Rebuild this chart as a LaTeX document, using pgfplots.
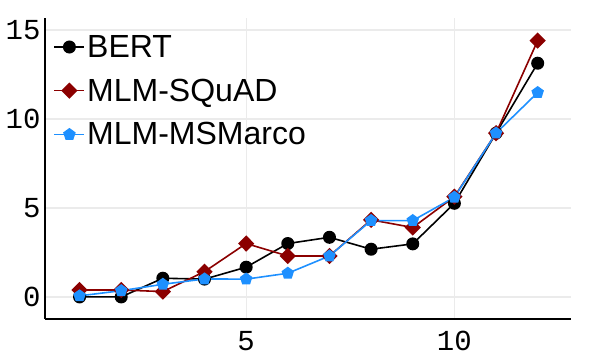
\documentclass[border=0pt]{standalone}
\usepackage{fontspec}
\setmainfont{Liberation Sans}
\setmonofont{Liberation Mono}
\usepackage{pgfplots}
\pgfplotsset{compat=1.18}
\usetikzlibrary{plotmarks}

\definecolor{bertc}{RGB}{0,0,0}
\definecolor{squadc}{RGB}{139,0,0}
\definecolor{msmc}{RGB}{30,144,255}
\definecolor{gridc}{RGB}{235,235,235}

\begin{document}
\begin{tikzpicture}
\begin{axis}[
  scale only axis,
  width=526pt, height=301pt,
  xmin=0.17, xmax=12.8,
  ymin=-1.24, ymax=15.67,
  xtick={5,10}, ytick={0,5,10,15},
  axis x line*=bottom, axis y line*=left,
  axis line style={line width=1.2pt, -},
  major tick length=0pt,
  grid=major, grid style={gridc, line width=1.3pt},
  tick label style={font=\fontsize{29}{31}\ttfamily},
  /pgf/number format/assume math mode=true,
  xticklabel style={yshift=-9pt},
  yticklabel style={xshift=-1pt},
  legend style={draw=none, fill=none, at={(0.016,0.95)}, anchor=north west,
    font=\fontsize{32}{36}\selectfont, row sep=16pt, inner sep=0pt},
  legend cell align=left,
  legend image code/.code={
    \draw[#1] (0pt,0pt) -- (15pt,0pt) -- (30pt,0pt);
    \draw[#1, only marks] plot coordinates {(15pt,0pt)};
  },
  every axis plot/.append style={line width=1.6pt},
]

\addplot[color=bertc, mark=*, mark size=5.7pt] coordinates {
  (1,0) (2,0) (3,1.05) (4,1.0) (5,1.67) (6,3.0) (7,3.35)
  (8,2.68) (9,2.98) (10,5.26) (11,9.2) (12,13.13)
};
\addlegendentry{BERT}

\addplot[color=squadc, mark=diamond*, mark size=7pt, mark options={xscale=1.33}] coordinates {
  (1,0.39) (2,0.39) (3,0.3) (4,1.42) (5,3.0) (6,2.3) (7,2.3)
  (8,4.33) (9,3.9) (10,5.63) (11,9.2) (12,14.4)
};
\addlegendentry{MLM-SQuAD}

\addplot[color=msmc, mark=pentagon*, mark size=5.6pt] coordinates {
  (1,0.06) (2,0.35) (3,0.71) (4,1.01) (5,1.0) (6,1.33) (7,2.3)
  (8,4.29) (9,4.29) (10,5.6) (11,9.2) (12,11.48)
};
\addlegendentry{MLM-MSMarco}

\end{axis}
\pgfresetboundingbox
\path ([shift={(-45pt,-45pt)}]current axis.south west)
  rectangle ([shift={(21pt,18pt)}]current axis.north east);
\end{tikzpicture}
\end{document}
